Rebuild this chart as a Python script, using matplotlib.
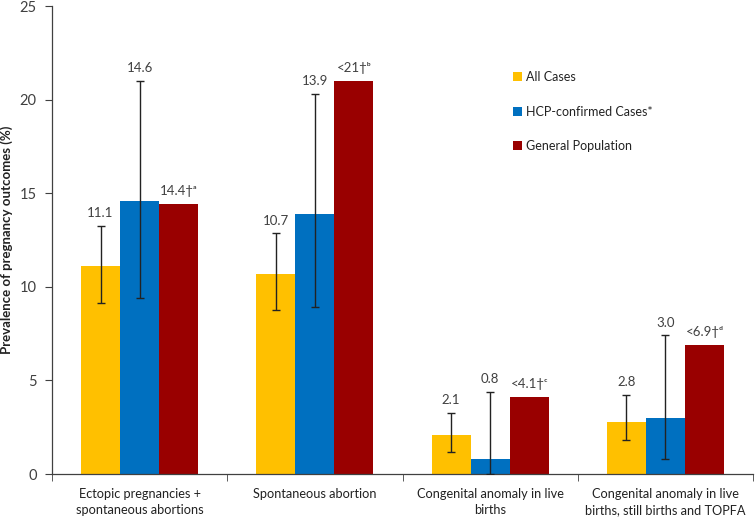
import matplotlib
matplotlib.use("Agg")
import matplotlib.pyplot as plt
import numpy as np

plt.rcParams['font.family'] = ['Lato', 'DejaVu Sans']

categories = ["Ectopic pregnancies +\nspontaneous abortions",
              "Spontaneous abortion",
              "Congenital anomaly in live\nbirths",
              "Congenital anomaly in live\nbirths, still births and TOPFA"]
series_names = ["All Cases", "HCP-confirmed Cases*", "General Population"]

all_cases = [11.1, 10.7, 2.1, 2.8]
all_low = [9.15, 8.75, 1.15, 1.8]
all_high = [13.25, 12.85, 3.25, 4.2]

hcp_cases = [14.6, 13.9, 0.8, 3.0]
hcp_low = [9.4, 8.9, 0.0, 0.8]
hcp_high = [21.0, 20.3, 4.4, 7.4]

general = [14.4, 21.0, 4.1, 6.9]
general_labels = ["14.4\u2020\u1d43", "<21\u2020\u1d47", "<4.1\u2020\u1d9c", "<6.9\u2020\u1d48"]

colors = ["#FFC000", "#0070C0", "#990000"]
yticks = [0, 5, 10, 15, 20, 25]

fig = plt.figure(figsize=(7.55, 5.23), dpi=100)
ax = fig.add_axes([52/755, 1-474/523, (753-52)/755, (474-6)/523])

x = np.arange(len(categories))
w = 0.223
txtcol = "#404040"

def draw(offset, vals, color, label, lo=None, hi=None, labels=None):
    pos = x + offset
    ax.bar(pos, vals, width=w, color=color, label=label, zorder=2)
    if lo is not None:
        v = np.array(vals); l = np.array(lo); h = np.array(hi)
        ax.errorbar(pos, v, yerr=[v - l, h - v], fmt='none', ecolor='#222222',
                    elinewidth=1, capsize=3, capthick=1, zorder=3)
        tops = h
    else:
        tops = np.array(vals)
    for p, t, s in zip(pos, tops, labels):
        ax.annotate(s, (p, t), xytext=(0, 5), textcoords='offset points',
                    ha='center', va='bottom', fontsize=9.5, color=txtcol)

draw(-w, all_cases, colors[0], series_names[0], all_low, all_high,
     [f"{v:.1f}" for v in all_cases])
draw(0, hcp_cases, colors[1], series_names[1], hcp_low, hcp_high,
     [f"{v:.1f}" for v in hcp_cases])
draw(w, general, colors[2], series_names[2], None, None, general_labels)

ax.set_xlim(-0.5, 3.5)
ax.set_ylim(0, 25)
ax.set_yticks(yticks)
ax.set_yticklabels([str(t) for t in yticks], fontsize=10.5, color=txtcol)
ax.set_xticks(x)
ax.set_xticklabels(categories, fontsize=9.2, color="#222222", linespacing=1.45)
ax.tick_params(axis='x', which='major', length=0, pad=10)
ax.set_xticks(np.arange(-0.5, 4.0, 1.0), minor=True)
ax.tick_params(axis='x', which='minor', length=5, direction='out', color='#404040')
ax.tick_params(axis='y', length=5, direction='out', color='#404040', pad=6)
for s in ['top', 'right']:
    ax.spines[s].set_visible(False)
for s in ['left', 'bottom']:
    ax.spines[s].set_color('#404040')
    ax.spines[s].set_linewidth(0.9)

ax.set_ylabel("Prevalence of pregnancy outcomes (%)", fontsize=9.5, fontweight='bold',
              color="#222222")
ax.yaxis.set_label_coords((13-52)/701, 0.5)

leg = ax.legend(loc='upper left', bbox_to_anchor=(508/755, 1-66/523),
                bbox_transform=fig.transFigure, frameon=False, fontsize=9,
                handlelength=0.7, handleheight=0.7, handletextpad=0.3,
                labelspacing=1.8, borderaxespad=0)
for t in leg.get_texts():
    t.set_color("#222222")

fig.savefig("out.png", dpi=100)
